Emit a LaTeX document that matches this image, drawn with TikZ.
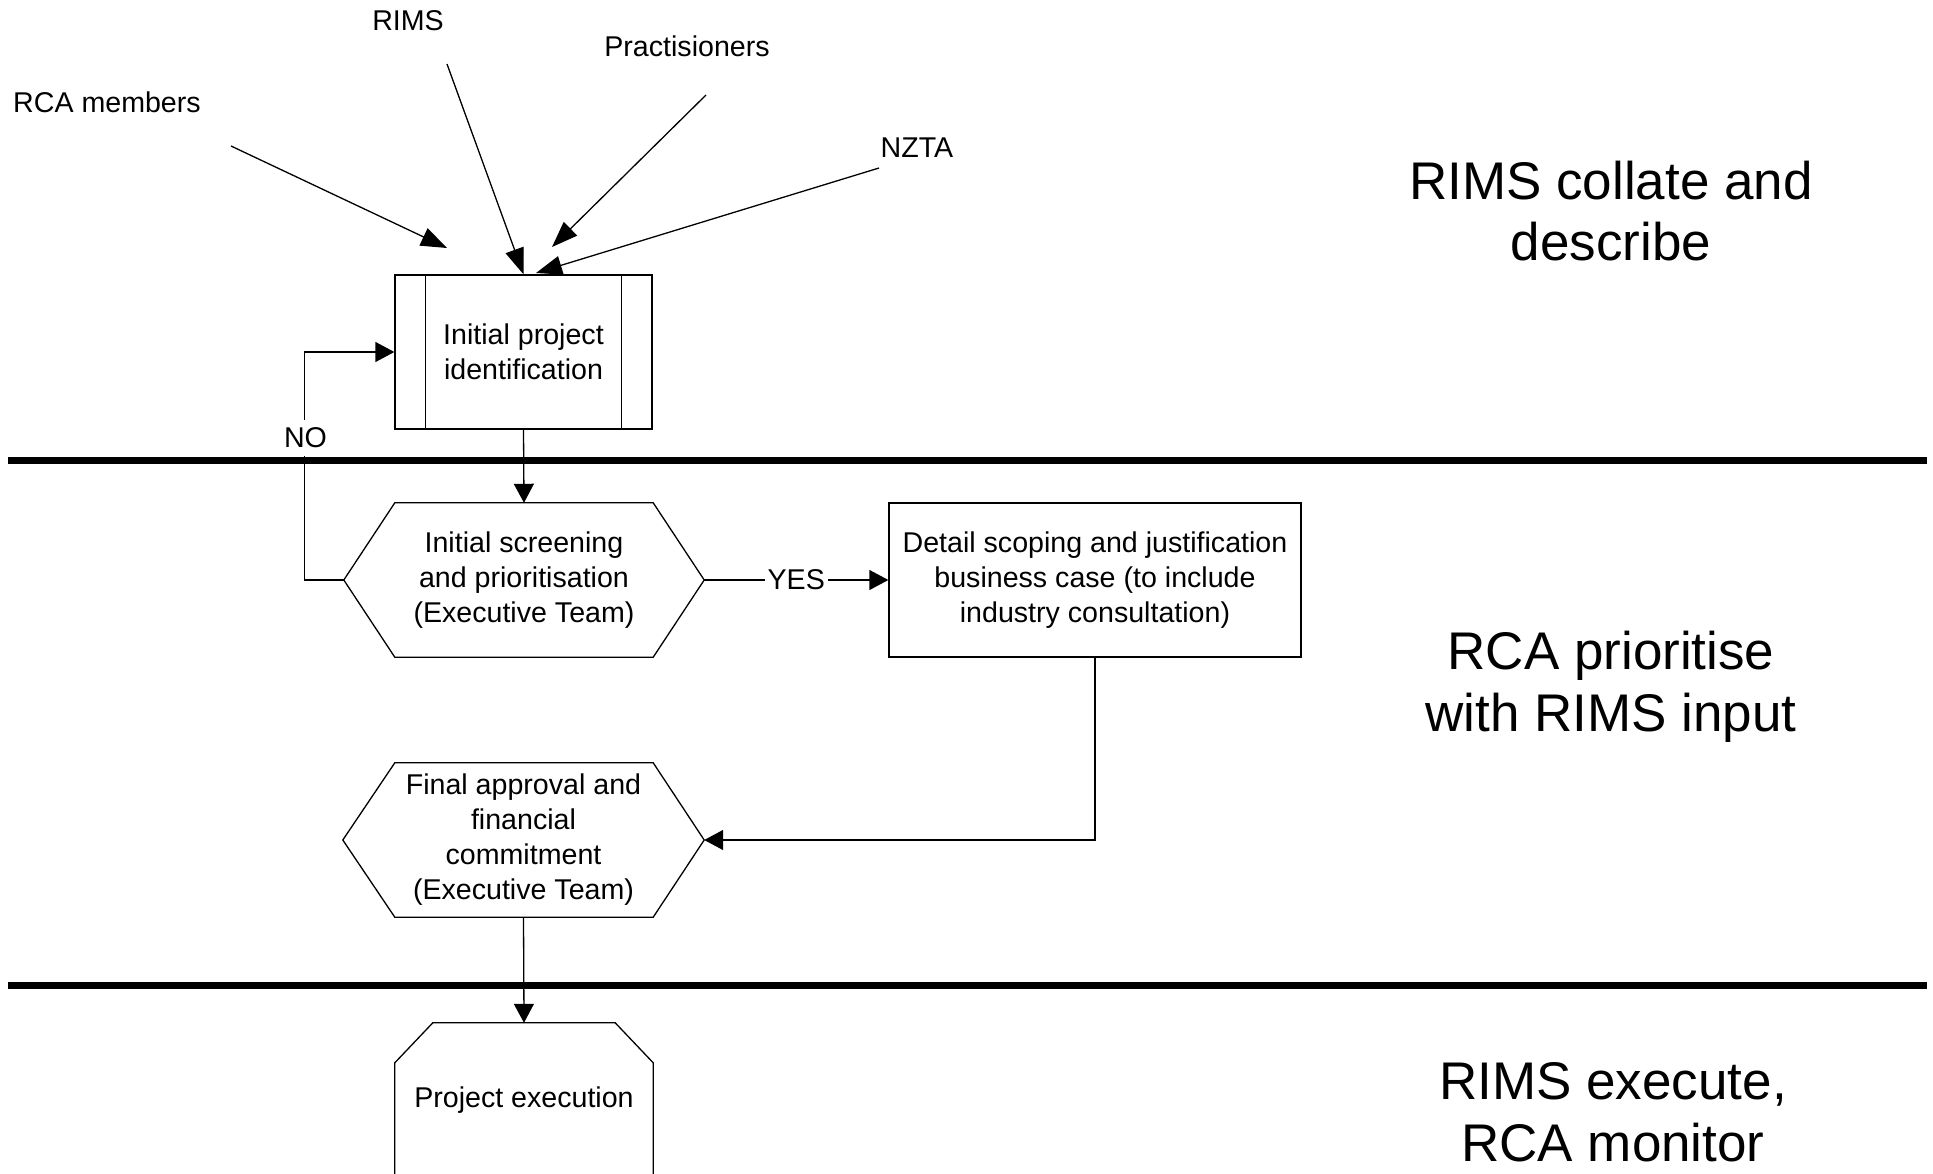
\documentclass[tikz,border=0pt]{standalone}
\usepackage{fontspec}
\setmainfont{Liberation Sans}
\usetikzlibrary{arrows.meta,calc}
\tikzset{
  x=1pt, y=-1pt,
  thin line/.style={line width=1.3pt, draw=black},
  boxtext/.style={font=\fontsize{28.6}{35}\selectfont, align=center, inner sep=0pt},
  lanetext/.style={font=\fontsize{53}{61.5}\selectfont, align=center, inner sep=0pt},
  srctext/.style={font=\fontsize{28.6}{35}\selectfont, inner sep=0pt},
  flow/.style={thin line, -{Triangle[length=19pt,width=20pt]}},
  inflow/.style={thin line, -{Triangle[length=26pt,width=19pt]}},
  lane/.style={line width=7pt, draw=black},
  lbl/.style={font=\fontsize{28.6}{35}\selectfont, fill=white, inner xsep=3pt, inner ysep=8pt},
}
\begin{document}
\begin{tikzpicture}
\useasboundingbox (0,0) rectangle (1933,1174);
\clip (0,0) rectangle (1933,1174);

% source labels
\node[srctext] (lRCA) at (107,102) {RCA members};
\node[srctext] (lRIMS) at (408,21) {RIMS};
\node[srctext] (lPract) at (687,46) {Practisioners};
\node[srctext] (lNZTA) at (917,148) {NZTA};

% nodes
\node[boxtext, draw, thin line, minimum width=257pt, minimum height=154pt] (b1) at (523.5,352) {Initial project\\identification};
\draw[thin line] ([xshift=31pt]b1.north west) -- ([xshift=31pt]b1.south west);
\draw[thin line] ([xshift=-31pt]b1.north east) -- ([xshift=-31pt]b1.south east);

\node[boxtext, minimum width=360pt, minimum height=154pt] (h1) at (524,580) {Initial screening\\and prioritisation\\(Executive Team)};
\draw[thin line] (h1.west) -- ([xshift=51pt]h1.north west) -- ([xshift=-51pt]h1.north east) -- (h1.east) -- ([xshift=-51pt]h1.south east) -- ([xshift=51pt]h1.south west) -- cycle;

\node[boxtext, draw, thin line, minimum width=412pt, minimum height=154pt] (b3) at (1095,580) {Detail scoping and justification\\business case (to include\\industry consultation)};

\node[boxtext, minimum width=361pt, minimum height=154pt] (h2) at (523.5,840) {Final approval and\\financial\\commitment\\(Executive Team)};
\draw[thin line] (h2.west) -- ([xshift=52pt]h2.north west) -- ([xshift=-51pt]h2.north east) -- (h2.east) -- ([xshift=-51pt]h2.south east) -- ([xshift=52pt]h2.south west) -- cycle;

\node[boxtext, minimum width=258pt, minimum height=154pt] (pe) at (524,1100) {Project execution};
\draw[thin line] ([xshift=38pt]pe.north west) -- ([xshift=-38pt]pe.north east) -- ([yshift=-40pt]pe.north east) -- (pe.south east) -- (pe.south west) -- ([yshift=-40pt]pe.north west) -- cycle;

% lane labels
\node[lanetext] (lane1) at (1611,211) {RIMS collate and\\describe};
\node[lanetext] (lane2) at (1611,687) {RCA prioritise\\with RIMS input};
\node[lanetext] (lane3) at (1613,1112) {RIMS execute,\\RCA monitor};

% input arrows
\coordinate (sRCA) at (231,146);
\coordinate (tRCA) at (447,248);
\coordinate (sRIMS) at (447,64);
\coordinate (sPract) at (706,95);
\coordinate (tPract) at (552,247);
\coordinate (sNZTA) at (879,168);
\coordinate (tNZTA) at (536,273);
\draw[inflow] (sRCA) -- (tRCA);
\draw[inflow] (sRIMS) -- (b1.north);
\draw[inflow] (sPract) -- (tPract);
\draw[inflow] (sNZTA) -- (tNZTA);

% flow
\draw[flow] (b1.south) -- (h1.north);
\draw[flow] (h1.west) -- ++(-39,0) coordinate (nocorner) |- (b1.west);
\node[lbl] (no) at (305.5,438) {NO};
\draw[flow] (h1.east) -- (b3.west) node[lbl, midway] (yes) {YES};
\draw[flow] (b3.south) |- (h2.east);
\draw[flow] (h2.south) -- (pe.north);

% lane separators
\coordinate (l1a) at (8,460.5);
\coordinate (l1b) at (1927,460.5);
\coordinate (l2a) at (8,985.5);
\coordinate (l2b) at (1927,985.5);
\draw[lane] (l1a) -- (l1b);
\draw[lane] (l2a) -- (l2b);
\end{tikzpicture}
\end{document}
